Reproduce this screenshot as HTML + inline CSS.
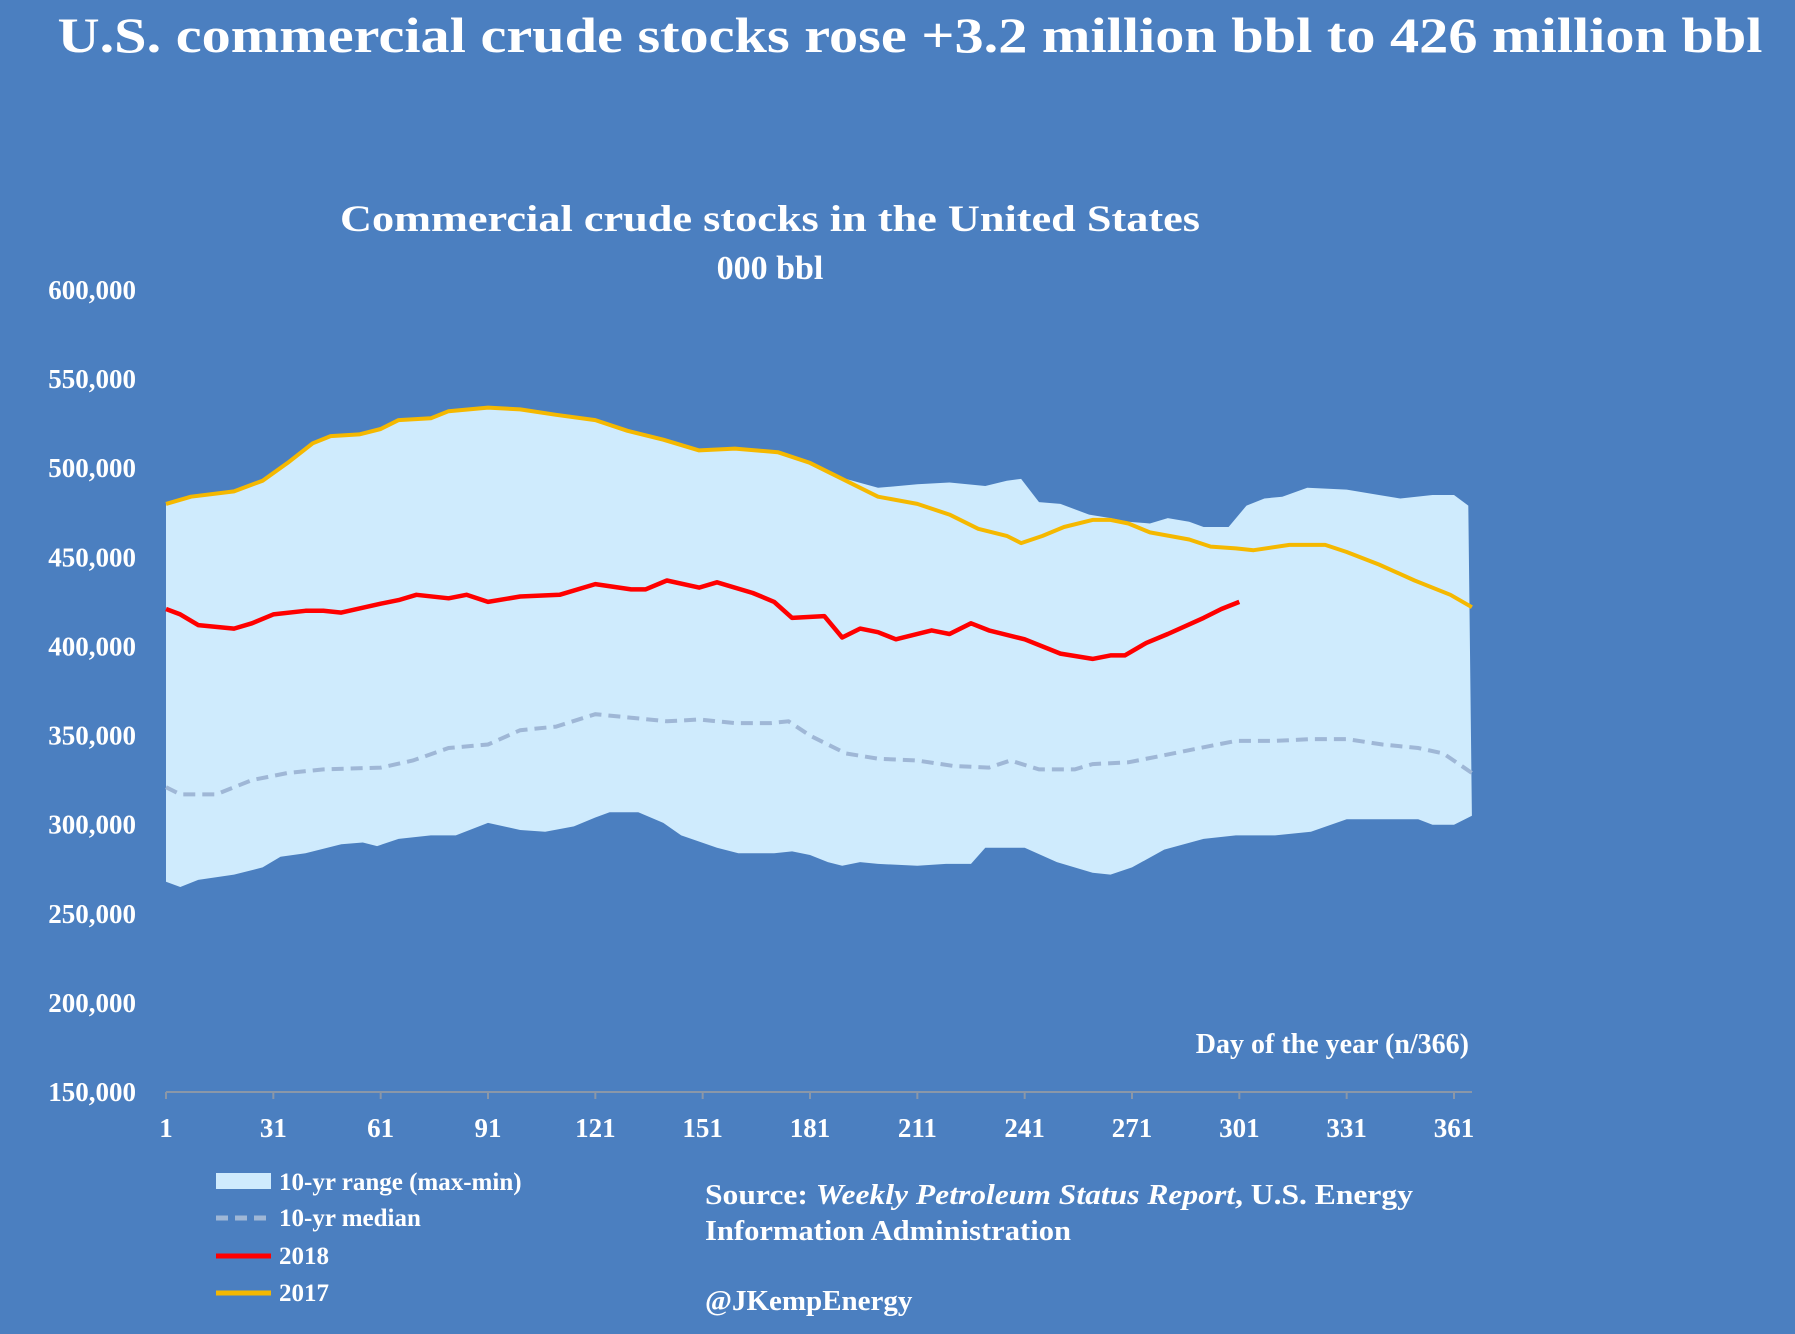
<!DOCTYPE html>
<html><head><meta charset="utf-8"><style>
html,body{margin:0;padding:0;background:#4b7fc0;}
svg{display:block;font-family:"Liberation Serif",serif;}
</style></head><body>
<svg id="c" width="1795" height="1334" viewBox="0 0 1795 1334">
<rect width="1795" height="1334" fill="#4b7fc0"/>
<text x="910" y="52" text-anchor="middle" fill="#fff" font-size="50" font-weight="bold" textLength="1705" lengthAdjust="spacingAndGlyphs">U.S. commercial crude stocks rose +3.2 million bbl to 426 million bbl</text>
<text x="770" y="231" text-anchor="middle" fill="#fff" font-size="37" font-weight="bold" textLength="860" lengthAdjust="spacingAndGlyphs">Commercial crude stocks in the United States</text>
<text x="770" y="279" text-anchor="middle" fill="#fff" font-size="34" font-weight="bold">000 bbl</text>
<text x="1469" y="1053" text-anchor="end" fill="#fff" font-size="28" font-weight="bold">Day of the year (n/366)</text>
<g id="plot"></g>
<g>
<rect x="216" y="1173" width="55" height="16" fill="#cfebfd"/>
<text x="279" y="1190" fill="#fff" font-size="25" font-weight="bold">10-yr range (max-min)</text>
<line x1="216" y1="1218" x2="271" y2="1218" stroke="#9fb7d6" stroke-width="5" stroke-dasharray="12,7"/>
<text x="279" y="1226" fill="#fff" font-size="25" font-weight="bold">10-yr median</text>
<line x1="216" y1="1256" x2="271" y2="1256" stroke="#ff0000" stroke-width="5"/>
<text x="279" y="1264" fill="#fff" font-size="25" font-weight="bold">2018</text>
<line x1="216" y1="1293" x2="271" y2="1293" stroke="#f5b800" stroke-width="5"/>
<text x="279" y="1301" fill="#fff" font-size="25" font-weight="bold">2017</text>
</g>
<text x="705" y="1204" fill="#fff" font-size="29" font-weight="bold" textLength="708" lengthAdjust="spacingAndGlyphs">Source: <tspan font-style="italic">Weekly Petroleum Status Report</tspan>, U.S. Energy</text>
<text x="705" y="1240" fill="#fff" font-size="29" font-weight="bold" textLength="366" lengthAdjust="spacingAndGlyphs">Information Administration</text>
<text x="705" y="1310" fill="#fff" font-size="29" font-weight="bold">@JKempEnergy</text>
</svg>
<script>
const xTicks=[1,31,61,91,121,151,181,211,241,271,301,331,361];
const yTicks=[150000,200000,250000,300000,350000,400000,450000,500000,550000,600000];
const maxDays=[1,8,20,28,35,42,47,55,61,66,75,80,91,100,110,121,130,140,150,160,172,181,191,200,211,220,230,236,240,245,251,259,265,270,276,281,287,291,298,303,308,313,320,331,340,346,355,361,365];
const maxVals=[480,484,487,493,503,514,518,519,522,527,528,532,534,533,530,527,521,516,510,511,509,503,494,489,491,492,490,493,494,481,480,474,472,470,469,472,470,467,467,479,483,484,489,488,485,483,485,485,479];
const minDays=[1,5,10,20,28,33,40,50,56,60,66,75,82,91,100,107,115,121,125,133,140,145,155,161,171,176,181,186,190,195,200,211,219,226,230,241,250,260,265,271,280,291,300,311,321,331,341,351,355,361,366];
const minVals=[268,265,269,272,276,282,284,289,290,288,292,294,294,301,297,296,299,304,307,307,301,294,287,284,284,285,283,279,277,279,278,277,278,278,287,287,279,273,272,276,286,292,294,294,296,303,303,303,300,300,305];
const medDays=[1,5,15,25,35,45,61,70,80,91,100,110,121,131,141,150,160,170,175,181,191,200,211,221,231,237,245,255,260,270,280,290,300,311,321,331,341,351,358,366];
const medVals=[321,317,317,325,329,331,332,336,343,345,353,355,362,360,358,359,357,357,358,350,340,337,336,333,332,336,331,331,334,335,339,343,347,347,348,348,345,343,340,329];
const y18Days=[1,5,10,20,25,31,40,45,50,61,66,71,80,85,91,100,111,121,131,135,141,150,155,165,171,176,185,190,195,200,205,215,220,226,231,241,251,260,265,269,275,281,291,296,301];
const y18Vals=[421,418,412,410,413,418,420,420,419,424,426,429,427,429,425,428,429,435,432,432,437,433,436,430,425,416,417,405,410,408,404,409,407,413,409,404,396,393,395,395,402,407,416,421,425];
const y17Days=[1,8,20,28,35,42,47,55,61,66,75,80,91,100,110,121,130,140,150,160,172,181,191,200,211,220,228,236,240,246,252,260,265,270,276,287,293,300,305,315,325,331,340,350,360,366];
const y17Vals=[480,484,487,493,503,514,518,519,522,527,528,532,534,533,530,527,521,516,510,511,509,503,493,484,480,474,466,462,458,462,467,471,471,469,464,460,456,455,454,457,457,453,446,437,429,422];

const X=d=>166+(d-1)*(1454-166)/360;
const Y=v=>1092-(v-150000)*(1092-290)/450000;
const NS="http://www.w3.org/2000/svg";
const g=document.getElementById('plot');
function mk(t,a){const e=document.createElementNS(NS,t);for(const k in a)e.setAttribute(k,a[k]);g.appendChild(e);return e;}
function pts(ds,vs){return ds.map((d,i)=>X(d).toFixed(1)+','+Y(vs[i]*1000).toFixed(1));}

const band=mk('polygon',{points:pts(maxDays,maxVals).concat(pts(minDays,minVals).reverse()).join(' '),fill:'#cfebfd'});


const med=mk('polyline',{points:pts(medDays,medVals).join(' '),fill:'none',stroke:'#9fb7d6','stroke-width':4,'stroke-dasharray':'12,7'});


const l17=mk('polyline',{points:pts(y17Days,y17Vals).join(' '),fill:'none',stroke:'#f5b800','stroke-width':4,'stroke-linejoin':'round'});


const l18=mk('polyline',{points:pts(y18Days,y18Vals).join(' '),fill:'none',stroke:'#ff0000','stroke-width':4.5,'stroke-linejoin':'round'});



const ax=mk('line',{x1:X(1),y1:Y(150000),x2:1472,y2:Y(150000),stroke:'#8a97a8','stroke-width':2});


xTicks.forEach(d=>{
  const t=mk('line',{x1:X(d),y1:Y(150000),x2:X(d),y2:Y(150000)+7,stroke:'#8a97a8','stroke-width':2});
  
  
  const l=mk('text',{x:X(d),y:1137,'text-anchor':'middle',fill:'#fff','font-size':27,'font-weight':'bold'});
  l.textContent=d;
  
  
});
yTicks.forEach(v=>{
  const l=mk('text',{x:136,y:Y(v)+9,'text-anchor':'end',fill:'#fff','font-size':27,'font-weight':'bold'});
  l.textContent=v.toLocaleString('en-US');
  
  
});
</script>
</body></html>
